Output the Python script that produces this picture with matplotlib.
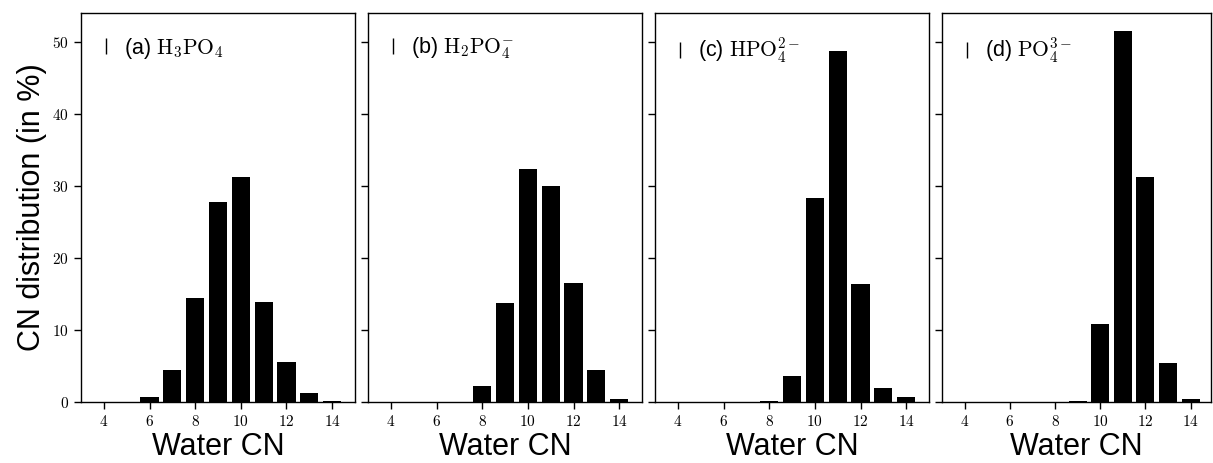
import matplotlib
matplotlib.use("Agg")
import matplotlib.pyplot as plt
from matplotlib.lines import Line2D

plt.rcParams['font.family'] = ['Liberation Sans', 'DejaVu Sans']
plt.rcParams['mathtext.fontset'] = 'cm'

cn = [4, 5, 6, 7, 8, 9, 10, 11, 12, 13, 14]
h3po4 = [0.0, 0.0, 0.7, 4.4, 14.4, 27.7, 31.3, 13.9, 5.6, 1.25, 0.15]
h2po4 = [0.0, 0.0, 0.0, 0.0, 2.2, 13.75, 32.3, 30.0, 16.5, 4.4, 0.4]
hpo4 = [0.0, 0.0, 0.0, 0.0, 0.1, 3.6, 28.3, 48.7, 16.4, 1.9, 0.7]
po4 = [0.0, 0.0, 0.0, 0.0, 0.0, 0.1, 10.8, 51.5, 31.3, 5.4, 0.4]

labels = [r"(a) $\mathrm{H_3PO_4}$",
          r"(b) $\mathrm{H_2PO_4^{-}}$",
          r"(c) $\mathrm{HPO_4^{2-}}$",
          r"(d) $\mathrm{PO_4^{3-}}$"]
series = [h3po4, h2po4, hpo4, po4]

xticks = [4, 6, 8, 10, 12, 14]
yticks = [0, 10, 20, 30, 40, 50]

W, H = 1213, 463
fig = plt.figure(figsize=(W / 100, H / 100), dpi=100)

lefts = [81, 368, 655, 942]
rights = [355, 642, 929, 1211]
top, bottom = 13, 402

for i, (vals, lab) in enumerate(zip(series, labels)):
    l, r = lefts[i], rights[i]
    ax = fig.add_axes([l / W, 1 - bottom / H, (r - l) / W, (bottom - top) / H])
    ax.bar(cn, vals, width=0.8, color='black')
    ax.set_xlim(3, 15 if i < 3 else 14.9)
    ax.set_ylim(0, 54)
    ax.set_xticks(xticks)
    ax.set_xticklabels([f"${v}$" for v in xticks], fontsize=11)
    ax.set_yticks(yticks)
    if i == 0:
        ax.set_yticklabels([f"${v}$" for v in yticks], fontsize=11)
        ax.set_ylabel("CN distribution (in %)", fontsize=22, labelpad=4)
    else:
        ax.set_yticklabels([])
    ax.tick_params(direction='out', length=5, width=1)
    ax.set_xlabel("Water CN", fontsize=22, labelpad=2)
    for s in ax.spines.values():
        s.set_linewidth(1.0)
    h = Line2D([], [], marker='|', linestyle='None', color='black',
               markersize=12, markeredgewidth=1)
    ax.legend([h], [lab], loc='upper left', frameon=False, fontsize=15.5,
              handlelength=0.9, handletextpad=0.4,
              borderaxespad=0.3, bbox_to_anchor=(0.0, 0.98))

fig.savefig("out.png", dpi=100)
